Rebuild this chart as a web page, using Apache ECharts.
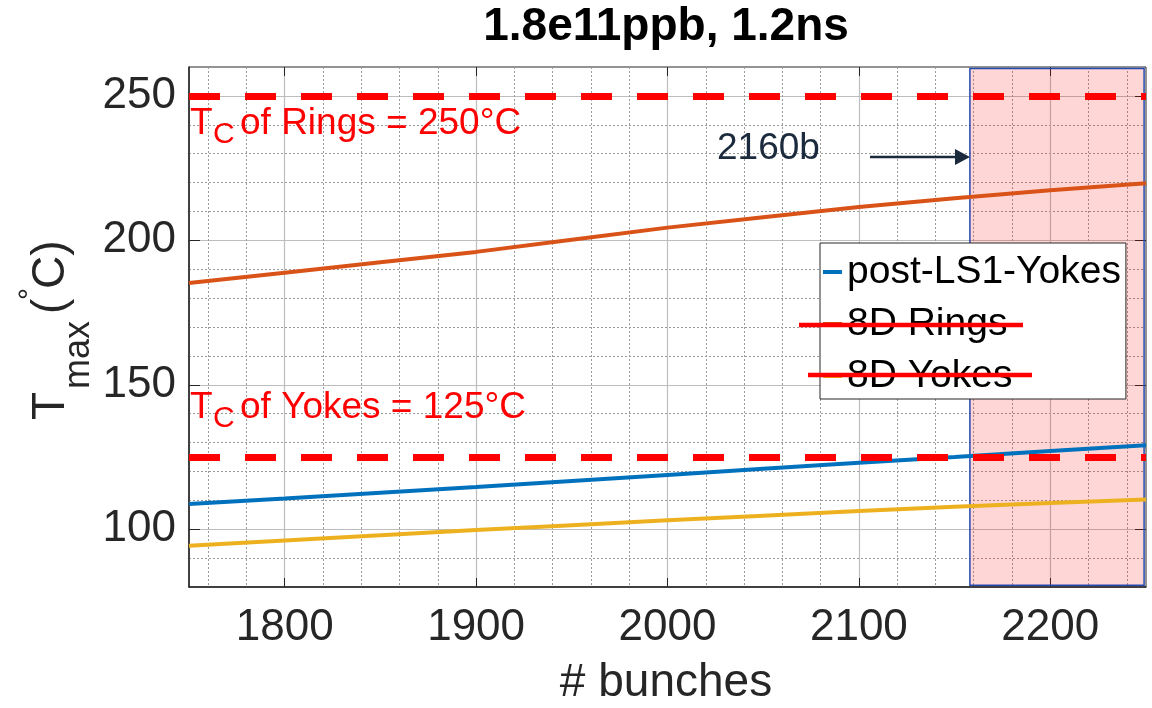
<!DOCTYPE html>
<html>
<head>
<meta charset="utf-8">
<script src="https://cdn.jsdelivr.net/npm/echarts@6/dist/echarts.min.js"></script>
<style>
html, body { margin: 0; padding: 0; background: #fff; }
#chart { width: 1152px; height: 708px; }
</style>
</head>
<body>
<div id="chart"></div>
<script>
// values
const bunches = [1750, 1800, 1850, 1900, 1950, 2000, 2050, 2100, 2150, 2200, 2250];
const postLS1Yokes = [108.7, 110.6, 112.6, 114.6, 116.7, 118.8, 120.9, 123.0, 125.0, 127.1, 129.1];
const rings8D = [185.2, 188.8, 192.4, 196.0, 200.2, 204.4, 208.0, 211.5, 214.6, 217.3, 219.8];
const yokes8D = [94.3, 96.1, 97.9, 99.7, 101.4, 103.1, 104.7, 106.3, 107.8, 109.1, 110.3];

const xMajorTicks = [1800, 1900, 2000, 2100, 2200];
const xMinorTicks = [1760, 1780, 1820, 1840, 1860, 1880, 1920, 1940, 1960, 1980, 2020, 2040,
                     2060, 2080, 2120, 2140, 2160, 2180, 2220, 2240];
const yMajorTicks = [100, 150, 200, 250];
const yMinorTicks = [90, 110, 120, 130, 140, 160, 170, 180, 190, 210, 220, 230, 240];

const ringsLimit = 250;
const yokesLimit = 125;
const shadeStart = 2158;
const shadeEnd = 2249;

const FONT = 'Liberation Sans, Arial, Helvetica, sans-serif';
const AXIS_COLOR = '#262626';

const pairs = (ys) => bunches.map((b, i) => [b, ys[i]]);

function txt(x, y, text, size, color, extra) {
    return {
        type: 'text', x: x, y: y, z: 100,
        style: Object.assign({
            text: text, fill: color, fontSize: size, fontFamily: FONT,
            align: 'left', verticalAlign: 'middle'
        }, extra || {})
    };
}

// T_C of ... = ...°C annotation
function tcLabel(y, name, value) {
    return [
        txt(190, y, 'T', 37, '#ff0000'),
        txt(213, y + 11, 'C', 30, '#ff0000'),
        txt(240, y, 'of ' + name + ' = ' + value + '°C', 37, '#ff0000')
    ];
}

// mirrored ticks on top / right (box on)
function boxAxis(kind, ticks, pos, len) {
    const ax = {
        type: 'value', position: pos,
        axisLine: { show: false }, axisLabel: { show: false },
        axisTick: { show: true, inside: true, length: len, customValues: ticks, lineStyle: { color: AXIS_COLOR } },
        splitLine: { show: false }
    };
    if (kind === 'x') { ax.min = 1750; ax.max = 2250; } else { ax.min = 80; ax.max = 260; }
    return ax;
}

const chart = echarts.init(document.getElementById('chart'));

chart.setOption({
    animation: false,
    grid: {
        left: 189, right: 6, top: 67, bottom: 121,
        show: true, borderColor: AXIS_COLOR, borderWidth: 1, backgroundColor: 'transparent'
    },
    legend: {
        data: ['post-LS1-Yokes', '8D Rings', '8D Yokes'],
        orient: 'vertical',
        left: 820, top: 243,
        icon: 'rect',
        itemWidth: 19, itemHeight: 4, itemGap: 6,
        padding: [6, 5, 0, 3],
        backgroundColor: '#fff',
        borderColor: AXIS_COLOR, borderWidth: 1,
        textStyle: { fontSize: 39, lineHeight: 39, padding: [7, 0, 0, 0], color: '#000', fontFamily: FONT }
    },
    xAxis: [{
        type: 'value', min: 1750, max: 2250,
        axisLine: { lineStyle: { color: AXIS_COLOR, width: 1.5 } },
        axisTick: { inside: true, length: 9, customValues: xMajorTicks, lineStyle: { color: AXIS_COLOR } },
        axisLabel: { customValues: xMajorTicks, formatter: (v) => String(v),
                     fontSize: 44, color: AXIS_COLOR, fontFamily: FONT, margin: 19 },
        splitLine: { show: true, lineStyle: { color: '#bdbdbd', width: 1.2 } }
    }, {
        type: 'value', min: 1750, max: 2250, position: 'bottom',
        axisLine: { show: false }, axisLabel: { show: false },
        axisTick: { show: false, customValues: xMinorTicks },
        splitLine: { show: true, lineStyle: { color: '#9a9a9a', width: 1, type: [2, 2] } }
    }, boxAxis('x', xMajorTicks, 'top', 9)],
    yAxis: [{
        type: 'value', min: 80, max: 260,
        axisLine: { show: true, lineStyle: { color: AXIS_COLOR, width: 1.5 } },
        axisTick: { show: true, inside: true, length: 11, customValues: yMajorTicks, lineStyle: { color: AXIS_COLOR } },
        axisLabel: { customValues: yMajorTicks, fontSize: 44, color: AXIS_COLOR, fontFamily: FONT, margin: 13 },
        splitLine: { show: true, lineStyle: { color: '#bdbdbd', width: 1.2 } }
    }, {
        type: 'value', min: 80, max: 260, position: 'left',
        axisLine: { show: false }, axisLabel: { show: false },
        axisTick: { show: false, customValues: yMinorTicks },
        splitLine: { show: true, lineStyle: { color: '#9a9a9a', width: 1, type: [2, 2] } }
    }, boxAxis('y', yMajorTicks, 'right', 11)],
    series: [{
        name: 'post-LS1-Yokes', type: 'line', symbol: 'none', z: 3,
        color: '#0072BD', lineStyle: { width: 4 },
        data: pairs(postLS1Yokes)
    }, {
        name: '8D Rings', type: 'line', symbol: 'none', z: 3,
        color: '#D95319', lineStyle: { width: 4 },
        data: pairs(rings8D)
    }, {
        name: '8D Yokes', type: 'line', symbol: 'none', z: 3,
        color: '#EDB120', lineStyle: { width: 4 },
        data: pairs(yokes8D)
    }, {
        // pink band, drawn over the legend like in the original
        name: 'shade', type: 'line', data: [], z: 10, silent: true,
        markArea: {
            silent: true,
            itemStyle: { color: 'rgba(255,0,0,0.16)', borderColor: '#2448b0', borderWidth: 1.5 },
            data: [[{ xAxis: shadeStart, yAxis: 259.5 }, { xAxis: shadeEnd, yAxis: 80.6 }]]
        }
    }, {
        name: 'limits', type: 'line', data: [], z: 11, silent: true,
        markLine: {
            silent: true, symbol: 'none',
            label: { show: false },
            lineStyle: { color: '#ff0000', width: 7, type: [31, 25] },
            data: [{ yAxis: ringsLimit }, { yAxis: yokesLimit }]
        }
    }],
    graphic: [
        txt(666, 27, '1.8e11ppb, 1.2ns', 46, '#000', { fontWeight: 'bold', align: 'center' }),
        txt(666, 683, '# bunches', 46, AXIS_COLOR, { align: 'center' }),
        {
            type: 'group', x: 68, y: 420, rotation: Math.PI / 2,
            children: [
                txt(0, -16.5, 'T', 46, AXIS_COLOR),
                txt(31, 11, 'max', 36, AXIS_COLOR),
                txt(106, -16.5, '(', 46, AXIS_COLOR),
                txt(120, -37, '°', 30, AXIS_COLOR),
                txt(131, -16.5, 'C)', 46, AXIS_COLOR)
            ]
        },
        ...tcLabel(124, 'Rings', ringsLimit),
        ...tcLabel(408, 'Yokes', yokesLimit),
        txt(717, 149, '2160b', 37, '#1b2a3c'),
        { type: 'line', z: 100, shape: { x1: 870, y1: 157, x2: 956, y2: 157 },
          style: { stroke: '#1b2a3c', lineWidth: 2.5 } },
        { type: 'polygon', z: 100, shape: { points: [[955, 149], [970, 157], [955, 165]] },
          style: { fill: '#1b2a3c' } },
        // strike-through over the two legend entries
        { type: 'line', z: 100, shape: { x1: 799, y1: 325, x2: 1023, y2: 325 },
          style: { stroke: '#ff0000', lineWidth: 4.5 } },
        { type: 'line', z: 100, shape: { x1: 808, y1: 375, x2: 1032, y2: 375 },
          style: { stroke: '#ff0000', lineWidth: 4.5 } }
    ]
});

window.addEventListener('resize', () => chart.resize());
</script>
</body>
</html>
